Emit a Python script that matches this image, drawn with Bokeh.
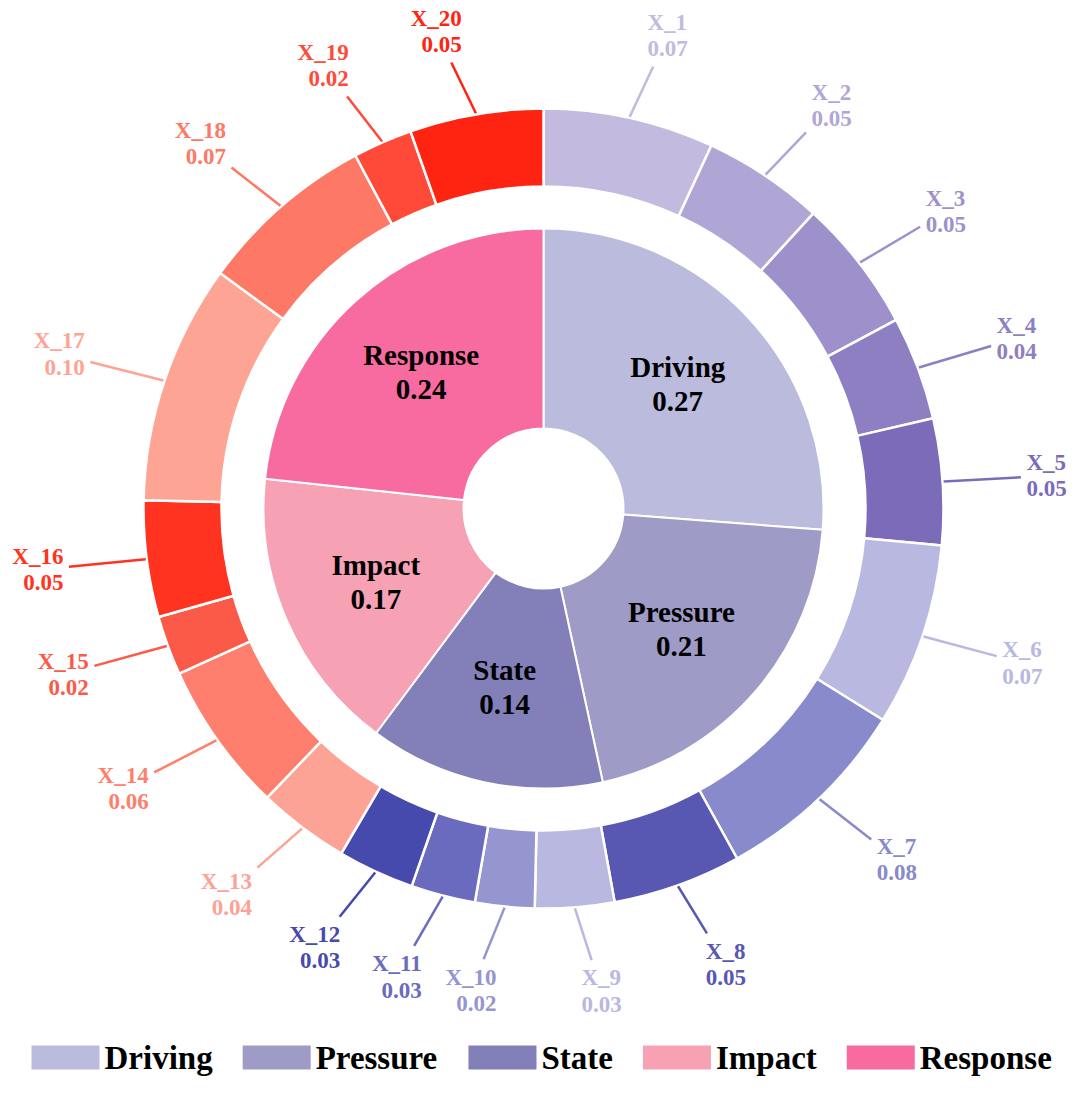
import math
import numpy as np
from bokeh.plotting import figure
from bokeh.models import Range1d, ColumnDataSource
from bokeh.core.properties import value
from bokeh.embed import file_html
from bokeh.resources import INLINE

# ---------------- data ----------------
inner_cats = ["Driving", "Pressure", "State", "Impact", "Response"]
inner_vals = [0.27, 0.21, 0.14, 0.17, 0.24]
inner_colors = ["#bbbbdd", "#9f9bc7", "#827fb9", "#f7a1b5", "#f76ba0"]

outer_names = ["X_1", "X_2", "X_3", "X_4", "X_5", "X_6", "X_7", "X_8", "X_9", "X_10",
               "X_11", "X_12", "X_13", "X_14", "X_15", "X_16", "X_17", "X_18", "X_19", "X_20"]
outer_vals = [0.069, 0.049, 0.054, 0.042, 0.051, 0.074, 0.081, 0.052, 0.032, 0.024,
              0.026, 0.031, 0.037, 0.061, 0.024, 0.047, 0.097, 0.072, 0.024, 0.054]
outer_colors = ["#c2badf", "#b0a6d6", "#9e91cb", "#8e7fc3", "#7b6bb9",
                "#b9b8e0", "#898acb", "#5858b3",
                "#b8b8e0", "#9595d0", "#6a6bbe", "#474aad",
                "#fca395", "#fe7f6e", "#fc5a48",
                "#ff3320", "#fda494", "#fe7866", "#ff4a39", "#ff2412"]

# ---------------- figure ----------------
W, H = 1072, 1085
TOT_H = 1101
# data coordinates == picture pixels (y measured upward from picture bottom)
p = figure(width=W, height=H, x_range=Range1d(0, W), y_range=Range1d(TOT_H - H, TOT_H),
           output_backend="svg", toolbar_location=None, min_border=0)
p.axis.visible = False
p.grid.visible = False
p.outline_line_color = None

cx, cy = 543, TOT_H - 508
FONT = "Liberation Serif"


def angles(vals):
    v = np.array(vals, float)
    f = v / v.sum()
    c = np.concatenate([[0.0], np.cumsum(f)])
    start = np.pi / 2 - 2 * np.pi * c[:-1]
    end = np.pi / 2 - 2 * np.pi * c[1:]
    return start, end, (start + end) / 2


# inner pie
s_in, e_in, m_in = angles(inner_vals)
src_in = ColumnDataSource(dict(start=s_in, end=e_in, color=inner_colors, cat=inner_cats))
p.annular_wedge(x=cx, y=cy, inner_radius=80, outer_radius=280,
                start_angle="start", end_angle="end", direction="clock",
                fill_color="color", line_color="white", line_width=2, source=src_in)
r_lab_in = 183
p.text(x=list(cx + r_lab_in * np.cos(m_in)), y=list(cy + r_lab_in * np.sin(m_in)),
       text=[f"{c}\n{v:.2f}" for c, v in zip(inner_cats, inner_vals)],
       text_align="center", text_baseline="middle", text_font=value(FONT),
       text_font_style="bold", text_font_size="29px", text_line_height=1.07,
       text_color="black")

# outer ring
s_out, e_out, m_out = angles(outer_vals)
src_out = ColumnDataSource(dict(start=s_out, end=e_out, color=outer_colors))
p.annular_wedge(x=cx, y=cy, inner_radius=322, outer_radius=400,
                start_angle="start", end_angle="end", direction="clock",
                fill_color="color", line_color="white", line_width=2.5, source=src_out)

R_ANCH = 484
FS = 23
lx, ly, al, x0, y0, x1, y1, txt = [], [], [], [], [], [], [], []
for name, v, m in zip(outer_names, outer_vals, m_out):
    ux, uy = math.cos(m), math.sin(m)
    ax_, ay_ = cx + R_ANCH * ux, cy + R_ANCH * uy
    tw = FS * max(0.722 + 0.5 + 0.5 * (len(name) - 2), 1.75)
    side = 1 if ux >= 0 else -1
    lx.append(ax_)
    ly.append(ay_)
    al.append("left" if side > 0 else "right")
    # visible centre of the text block
    tcx, tcy = ax_ + side * tw / 2, ay_
    sx, sy = cx + 401 * ux, cy + 401 * uy
    dx, dy = tcx - sx, tcy - sy
    dist = math.hypot(dx, dy)
    hw, hh = tw / 2 + 5.5, 31
    g = []
    if abs(dx) > 1e-6:
        g.append(hw / abs(dx) * dist)
    if abs(dy) > 1e-6:
        g.append(hh / abs(dy) * dist)
    t = 1 - min(g) / dist
    x0.append(sx)
    y0.append(sy)
    x1.append(sx + dx * t)
    y1.append(sy + dy * t)
    txt.append(f"{name}\n{v:.2f}")

p.segment(x0=x0, y0=y0, x1=x1, y1=y1, line_color=outer_colors, line_width=2.5)
src_lab = ColumnDataSource(dict(x=lx, y=ly, text=txt, align=al, color=outer_colors))
p.text(x="x", y="y", text="text", text_align="align", text_baseline="middle",
       text_font=value(FONT), text_font_style="bold", text_font_size=f"{FS}px",
       text_line_height=1.05, text_color="color", source=src_lab)

# legend (drawn by hand: swatch, label, constant gap)
# bold serif advance widths (per 1000 em) to lay out the labels
CW = {"D": 722, "r": 444, "i": 278, "v": 500, "n": 556, "g": 500, "P": 611, "e": 444,
      "s": 389, "u": 556, "S": 556, "t": 333, "a": 500, "I": 389, "m": 833, "p": 556,
      "c": 444, "R": 722, "o": 500}
LFS = 33
SW_W, SW_H = 68, 24
STANDOFF, GAP = 5, 30
leg_y = TOT_H - 1057
xpos = 31
sw_x, lab_x = [], []
for c in inner_cats:
    sw_x.append(xpos + SW_W / 2)
    lab_x.append(xpos + SW_W + STANDOFF)
    w = LFS * sum(CW.get(ch, 500) for ch in c) / 1000
    xpos = xpos + SW_W + STANDOFF + w + GAP
p.rect(x=sw_x, y=leg_y, width=SW_W, height=SW_H, fill_color=inner_colors,
       line_color=None)
p.text(x=lab_x, y=leg_y, text=inner_cats, text_align="left", text_baseline="middle",
       text_font=value(FONT), text_font_style="bold", text_font_size=f"{LFS}px",
       text_color="black")

open("out.html", "w").write(file_html(p, INLINE))
